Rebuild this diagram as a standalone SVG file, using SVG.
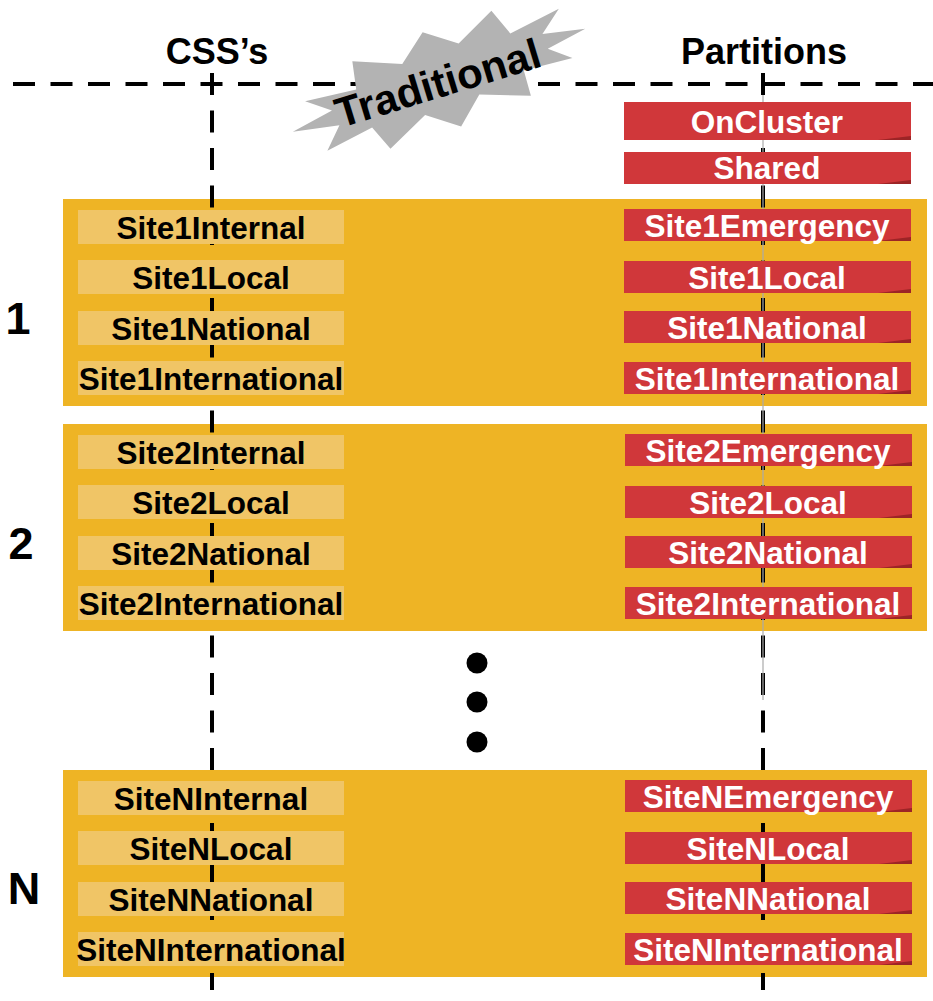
<svg xmlns="http://www.w3.org/2000/svg" width="933" height="1001" viewBox="0 0 933 1001">
<style>
.panel{fill:#EEB425}
.lbox{fill:#F0C566}
.rbox{fill:#D0373A}
.fold{fill:#9C2426}
.lt{font-family:"Liberation Sans",Arial,sans-serif;font-weight:bold;font-size:31.5px;fill:#000;text-anchor:middle}
.rt{font-family:"Liberation Sans",Arial,sans-serif;font-weight:bold;font-size:31.5px;fill:#fff;text-anchor:middle}
.hd{font-family:"Liberation Sans",Arial,sans-serif;font-weight:bold;font-size:36px;fill:#000;text-anchor:middle}
.num{font-family:"Liberation Sans",Arial,sans-serif;font-weight:bold;font-size:45px;fill:#000;text-anchor:middle}
.dash{stroke:#000;stroke-width:4;stroke-dasharray:22 15.5;fill:none}
</style>
<rect width="933" height="1001" fill="#fff"/>

<g id="panels">
<rect class="panel" x="63" y="199" width="864" height="207"/>
<rect class="panel" x="63" y="424" width="864" height="207"/>
<rect class="panel" x="63" y="770" width="864" height="207"/>
</g>

<g id="connectors">
<line class="dash" x1="13" y1="84" x2="933" y2="84"/>
<line class="dash" x1="212" y1="73" x2="212" y2="990"/>
<line class="dash" x1="763" y1="73" x2="763" y2="990"/>
<line x1="763" y1="95" x2="763" y2="700" stroke="#aaa" stroke-width="1.2"/>
</g>

<g id="starburst">
<polygon transform="translate(440,80) rotate(-20) scale(1,0.82)" fill="#B3B3B3" points="154,2 112,9 132,30 82,24 80,56 32,33 4,62 -26,34 -70,58 -80,26 -130,34 -110,10 -156,-2 -112,-10 -134,-32 -82,-24 -76,-58 -30,-34 0,-62 30,-34 72,-58 82,-24 136,-32 112,-10"/>
<text class="hd" transform="translate(442,97) rotate(-17)" style="font-size:42px">Traditional</text>
</g>

<g id="headers">
<text class="hd" x="217" y="64">CSS’s</text>
<text class="hd" x="764" y="64">Partitions</text>
</g>

<g id="site-numbers">
<text class="num" x="18" y="334">1</text>
<text class="num" x="21" y="559">2</text>
<text class="num" x="24" y="904">N</text>
</g>

<g id="dots">
<circle cx="477" cy="663" r="10.5"/>
<circle cx="477" cy="702" r="10.5"/>
<circle cx="477" cy="742" r="10.5"/>
</g>

<g id="oncluster"><rect class="rbox" x="624" y="102" width="287" height="38"/><polygon class="fold" points="878,140 911,136 911,140"/><text class="rt" x="767" y="133">OnCluster</text></g>
<g id="shared"><rect class="rbox" x="624" y="152" width="287" height="32"/><polygon class="fold" points="878,184 911,180 911,184"/><text class="rt" x="767" y="179">Shared</text></g>

<g id="site1-css">
<g id="css-site1internal"><rect class="lbox" x="78" y="210" width="266" height="34"/><text class="lt" x="211" y="239">Site1Internal</text></g>
<g id="css-site1local"><rect class="lbox" x="78" y="260" width="266" height="34"/><text class="lt" x="211" y="289">Site1Local</text></g>
<g id="css-site1national"><rect class="lbox" x="78" y="311" width="266" height="34"/><text class="lt" x="211" y="340">Site1National</text></g>
<g id="css-site1international"><rect class="lbox" x="78" y="361" width="266" height="34"/><text class="lt" x="211" y="390">Site1International</text></g>
</g>
<g id="site1-partitions">
<g id="pt-site1emergency"><rect class="rbox" x="624" y="209" width="287" height="32"/><polygon class="fold" points="878,241 911,237 911,241"/><text class="rt" x="767" y="237">Site1Emergency</text></g>
<g id="pt-site1local"><rect class="rbox" x="624" y="261" width="287" height="32"/><polygon class="fold" points="878,293 911,289 911,293"/><text class="rt" x="767" y="289">Site1Local</text></g>
<g id="pt-site1national"><rect class="rbox" x="624" y="311" width="287" height="32"/><polygon class="fold" points="878,343 911,339 911,343"/><text class="rt" x="767" y="339">Site1National</text></g>
<g id="pt-site1international"><rect class="rbox" x="624" y="362" width="287" height="32"/><polygon class="fold" points="878,394 911,390 911,394"/><text class="rt" x="767" y="390">Site1International</text></g>
</g>

<g id="site2-css">
<g id="css-site2internal"><rect class="lbox" x="78" y="435" width="266" height="34"/><text class="lt" x="211" y="464">Site2Internal</text></g>
<g id="css-site2local"><rect class="lbox" x="78" y="485" width="266" height="34"/><text class="lt" x="211" y="514">Site2Local</text></g>
<g id="css-site2national"><rect class="lbox" x="78" y="536" width="266" height="34"/><text class="lt" x="211" y="565">Site2National</text></g>
<g id="css-site2international"><rect class="lbox" x="78" y="586" width="266" height="34"/><text class="lt" x="211" y="615">Site2International</text></g>
</g>
<g id="site2-partitions">
<g id="pt-site2emergency"><rect class="rbox" x="625" y="434" width="287" height="32"/><polygon class="fold" points="879,466 912,462 912,466"/><text class="rt" x="768" y="462">Site2Emergency</text></g>
<g id="pt-site2local"><rect class="rbox" x="625" y="486" width="287" height="32"/><polygon class="fold" points="879,518 912,514 912,518"/><text class="rt" x="768" y="514">Site2Local</text></g>
<g id="pt-site2national"><rect class="rbox" x="625" y="536" width="287" height="32"/><polygon class="fold" points="879,568 912,564 912,568"/><text class="rt" x="768" y="564">Site2National</text></g>
<g id="pt-site2international"><rect class="rbox" x="625" y="587" width="287" height="32"/><polygon class="fold" points="879,619 912,615 912,619"/><text class="rt" x="768" y="615">Site2International</text></g>
</g>

<g id="siteN-css">
<g id="css-siteNinternal"><rect class="lbox" x="78" y="781" width="266" height="34"/><text class="lt" x="211" y="810">SiteNInternal</text></g>
<g id="css-siteNlocal"><rect class="lbox" x="78" y="831" width="266" height="34"/><text class="lt" x="211" y="860">SiteNLocal</text></g>
<g id="css-siteNnational"><rect class="lbox" x="78" y="882" width="266" height="34"/><text class="lt" x="211" y="911">SiteNNational</text></g>
<g id="css-siteNinternational"><rect class="lbox" x="78" y="932" width="266" height="34"/><text class="lt" x="211" y="961">SiteNInternational</text></g>
</g>
<g id="siteN-partitions">
<g id="pt-siteNemergency"><rect class="rbox" x="625" y="780" width="287" height="32"/><polygon class="fold" points="879,812 912,808 912,812"/><text class="rt" x="768" y="808">SiteNEmergency</text></g>
<g id="pt-siteNlocal"><rect class="rbox" x="625" y="832" width="287" height="32"/><polygon class="fold" points="879,864 912,860 912,864"/><text class="rt" x="768" y="860">SiteNLocal</text></g>
<g id="pt-siteNnational"><rect class="rbox" x="625" y="882" width="287" height="32"/><polygon class="fold" points="879,914 912,910 912,914"/><text class="rt" x="768" y="910">SiteNNational</text></g>
<g id="pt-siteNinternational"><rect class="rbox" x="625" y="933" width="287" height="32"/><polygon class="fold" points="879,965 912,961 912,965"/><text class="rt" x="768" y="961">SiteNInternational</text></g>
</g>
</svg>
